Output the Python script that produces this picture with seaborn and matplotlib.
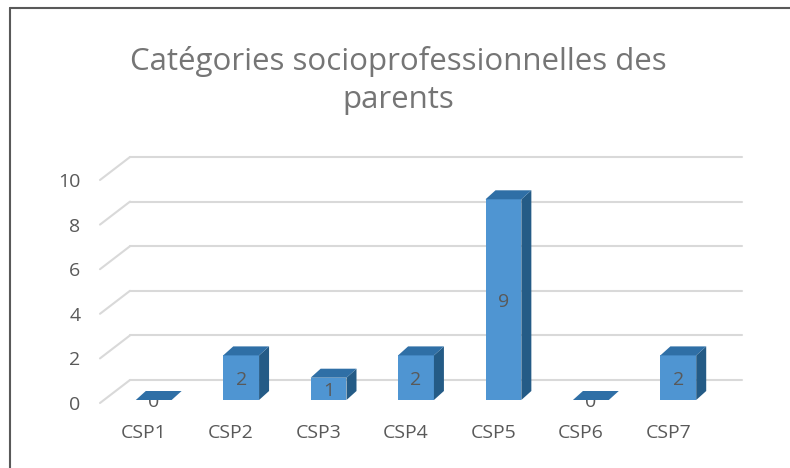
import numpy as np
import pandas as pd
import matplotlib
matplotlib.use("Agg")
import matplotlib.pyplot as plt
import matplotlib.transforms as mtrans
from matplotlib.patches import Polygon
import seaborn as sns

# Données
categories = ['CSP1', 'CSP2', 'CSP3', 'CSP4', 'CSP5', 'CSP6', 'CSP7']
effectifs = [0, 2, 1, 2, 9, 0, 2]
titre = 'Catégories socioprofessionnelles des\nparents'

sns.set_style('white')
plt.rcParams['font.family'] = ['Open Sans', 'DejaVu Sans']

col_face = '#4f95d2'
col_top = '#2f6fa6'
col_side = '#245b86'
col_grid = '#d9d9d9'
col_txt = '#595959'

fig = plt.figure(figsize=(7.9, 4.68), dpi=100)
ax = fig.add_axes([100 / 790, 65 / 468, 612 / 790, 223 / 468])

df = pd.DataFrame({'csp': categories, 'n': effectifs})
sns.barplot(data=df, x='csp', y='n', color=col_face, width=0.41,
            saturation=1, ax=ax, zorder=3)
ax.set_ylim(0, 10)
ax.set_xlim(-0.5, len(categories) - 0.5)

# décalage en pixels -> pouces
def px(dx, dy):
    return mtrans.ScaledTranslation(dx / 100, dy / 100, fig.dpi_scale_trans)

back = ax.transData + px(30, 23)
# grille: diagonales + lignes du plan de fond
for v in range(0, 11, 2):
    x0, y0 = ax.transData.transform((-0.5, v))
    fig.add_artist(plt.Line2D([x0 / 790, (x0 + 30) / 790],
                              [y0 / 468, (y0 + 23) / 468],
                              color=col_grid, lw=1.5, zorder=1))
    ax.plot([-0.5, len(categories) - 0.5], [v, v], color=col_grid, lw=1.5,
            transform=back, clip_on=False, zorder=1)

# faces 3D des barres
shift = px(10, 3)
dx, dy = 10, 9
for p in ax.patches:
    p.set_transform(ax.transData + shift)
    p.set_edgecolor('none')
    x0 = p.get_x()
    w = p.get_width()
    h = p.get_height()
    x1 = x0 + w
    tr = ax.transData + shift
    a = tr.transform((x0, h))
    b = tr.transform((x1, h))
    c = tr.transform((x1, 0))
    top = Polygon([a, b, b + [dx, dy], a + [dx, dy]], closed=True,
                  facecolor=col_top, edgecolor='none', transform=None, zorder=4)
    side = Polygon([b, c, c + [dx, dy], b + [dx, dy]], closed=True,
                   facecolor=col_side, edgecolor='none', transform=None, zorder=4)
    fig.add_artist(side)
    fig.add_artist(top)

# étiquettes de valeurs
for i, v in enumerate(effectifs):
    ax.text(i, v / 2, str(v), ha='center', va='center', fontsize=14,
            color=col_txt, transform=ax.transData + px(10, 1), zorder=6)

ax.set_xlabel('')
ax.set_ylabel('')
ax.set_yticks(range(0, 11, 2))
ax.tick_params(axis='both', length=0, labelsize=14, labelcolor=col_txt)
ax.tick_params(axis='y', pad=14)
ax.tick_params(axis='x', pad=15)
for s in ax.spines.values():
    s.set_visible(False)
ax.patch.set_alpha(0)

fig.text(0.504, 0.827, titre, ha='center', va='center', fontsize=22.5,
         color='#757575', linespacing=1.35)

# bordure du graphique
fig.add_artist(plt.Line2D([9.5 / 790, 9.5 / 790], [0, 1 - 8 / 468],
                          color='#595959', lw=1.5))
fig.add_artist(plt.Line2D([9.5 / 790, 1], [1 - 8 / 468, 1 - 8 / 468],
                          color='#595959', lw=1.5))

fig.savefig('out.png', dpi=100)
